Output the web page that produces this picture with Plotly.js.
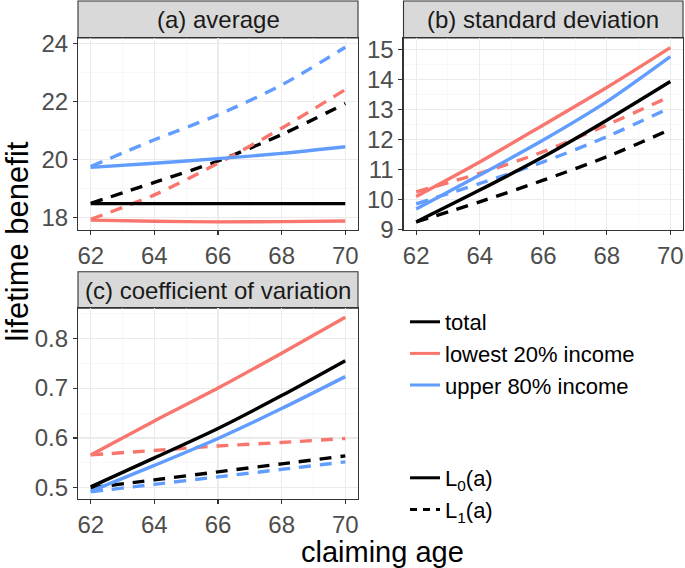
<!DOCTYPE html>
<html>
<head>
<meta charset="utf-8">
<script src="https://cdn.plot.ly/plotly-3.0.1.min.js"></script>
<style>html,body{margin:0;padding:0;background:#fff}#plot{width:685px;height:568px}</style>
</head>
<body>
<div id="plot"></div>
<script>
// ---- data ----
const ages = [62, 64, 66, 68, 70];
const xTicks = [62, 64, 66, 68, 70];

// (a) average
const avgTotalL0 = [18.47, 18.47, 18.47, 18.47, 18.47];
const avgTotalL1 = [18.48, 19.2, 19.94, 20.85, 21.92];
const avgLowL0 = [17.9, 17.86, 17.84, 17.85, 17.87];
const avgLowL1 = [17.93, 18.77, 19.86, 21.07, 22.4];
const avgUpL0 = [19.72, 19.86, 20.02, 20.2, 20.43];
const avgUpL1 = [19.75, 20.67, 21.53, 22.56, 23.86];

// (b) standard deviation
const sdTotalL0 = [9.25, 10.31, 11.42, 12.64, 13.93];
const sdTotalL1 = [9.25, 9.92, 10.64, 11.42, 12.33];
const sdLowL0 = [10.1, 11.25, 12.48, 13.73, 15.06];
const sdLowL1 = [10.25, 10.87, 11.59, 12.48, 13.43];
const sdUpL0 = [9.68, 10.81, 11.98, 13.26, 14.76];
const sdUpL1 = [9.85, 10.53, 11.25, 12.09, 13.06];

// (c) coefficient of variation
const cvTotalL0 = [0.502, 0.56, 0.619, 0.685, 0.755];
const cvTotalL1 = [0.5, 0.516, 0.532, 0.548, 0.564];
const cvLowL0 = [0.566, 0.634, 0.70, 0.77, 0.842];
const cvLowL1 = [0.566, 0.575, 0.584, 0.591, 0.599];
const cvUpL0 = [0.493, 0.545, 0.599, 0.659, 0.723];
const cvUpL1 = [0.492, 0.507, 0.522, 0.537, 0.552];

const groupNames = ['total', 'lowest 20% income', 'upper 80% income'];
const typeNames = ['L<sub>0</sub>(a)', 'L<sub>1</sub>(a)'];
const panelTitles = ['(a) average', '(b) standard deviation', '(c) coefficient of variation'];
const yTicksA = [18, 20, 22, 24];
const yTicksB = [9, 10, 11, 12, 13, 14, 15];
const yTicksC = [0.5, 0.6, 0.7, 0.8];

// ---- styling ----
const colors = ['#000000', '#F8766D', '#619CFF'];
const LW = 3.4;
const DASH = '12px,9px';
const W = 685, H = 568;
const font = 'Liberation Sans, Arial, sans-serif';

const panels = [
  {xa: 'x', ya: 'y', series: [[avgTotalL0, avgTotalL1], [avgLowL0, avgLowL1], [avgUpL0, avgUpL1]]},
  {xa: 'x2', ya: 'y2', series: [[sdTotalL0, sdTotalL1], [sdLowL0, sdLowL1], [sdUpL0, sdUpL1]]},
  {xa: 'x3', ya: 'y3', series: [[cvTotalL0, cvTotalL1], [cvLowL0, cvLowL1], [cvUpL0, cvUpL1]]}
];

const traces = [];
panels.forEach(p => {
  [1, 0].forEach(t => {
    [0, 1, 2].forEach(g => {
      traces.push({
        x: ages, y: p.series[g][t], xaxis: p.xa, yaxis: p.ya,
        type: 'scatter', mode: 'lines', showlegend: false, hoverinfo: 'skip',
        line: {color: colors[g], width: LW, dash: t === 0 ? 'solid' : DASH, shape: 'spline', smoothing: 0.8}
      });
    });
  });
});
// legend entries
groupNames.forEach((n, g) => {
  traces.push({x: [null], y: [null], xaxis: 'x', yaxis: 'y', type: 'scatter', mode: 'lines',
    name: n, legend: 'legend', line: {color: colors[g], width: 3}});
});
typeNames.forEach((n, t) => {
  traces.push({x: [null], y: [null], xaxis: 'x', yaxis: 'y', type: 'scatter', mode: 'lines',
    name: n, legend: 'legend2', line: {color: '#000', width: 3, dash: t === 0 ? 'solid' : '7px,6px'}});
});

const px = v => v / W;
const py = v => 1 - v / H;

function xax(d) {
  return {domain: d, range: [61.6, 70.4], tickvals: xTicks, ticktext: xTicks.map(String),
    showline: true, mirror: true, linecolor: '#333333', linewidth: 1.1,
    ticks: 'outside', ticklen: 4, tickcolor: '#333333', tickwidth: 1.1,
    showgrid: true, gridcolor: '#ebebeb', gridwidth: 1.1, zeroline: false,
    minor: {dtick: 1, tick0: 61, showgrid: true, gridcolor: '#f3f3f3', gridwidth: 0.6, ticks: ''},
    tickfont: {family: font, size: 24, color: '#4d4d4d'}, fixedrange: true};
}
function yax(d, r, tv, md) {
  return {domain: d, range: r, tickvals: tv, ticktext: tv.map(String),
    showline: true, mirror: true, linecolor: '#333333', linewidth: 1.1,
    ticks: 'outside', ticklen: 4, tickcolor: '#333333', tickwidth: 1.1,
    showgrid: true, gridcolor: '#ebebeb', gridwidth: 1.1, zeroline: false,
    minor: {dtick: md, tick0: tv[0] - md, showgrid: true, gridcolor: '#f3f3f3', gridwidth: 0.6, ticks: ''},
    tickfont: {family: font, size: 24, color: '#4d4d4d'}, fixedrange: true};
}

const aX = [px(78), px(358)], bX = [px(403.5), px(683)];
const topY = [py(230), py(38)], botY = [py(499.3), py(308.3)];

const strips = [
  {x0: 78, x1: 358, y0: 1, y1: 38},
  {x0: 403.5, x1: 683, y0: 1, y1: 38},
  {x0: 78, x1: 358, y0: 271.7, y1: 308.3}
];
const shapes = strips.map(s => ({type: 'rect', xref: 'paper', yref: 'paper',
  x0: px(s.x0), x1: px(s.x1), y0: py(s.y1), y1: py(s.y0),
  fillcolor: '#d9d9d9', line: {color: '#333333', width: 1.1}, layer: 'below'}));

const annotations = strips.map((s, i) => ({xref: 'paper', yref: 'paper',
  x: px((s.x0 + s.x1) / 2), y: py((s.y0 + s.y1) / 2), xanchor: 'center', yanchor: 'middle',
  text: panelTitles[i], showarrow: false, font: {family: font, size: 24, color: '#1a1a1a'}}));
annotations.push({xref: 'paper', yref: 'paper', x: px(16.5), y: py(242), text: 'lifetime benefit',
  textangle: -90, showarrow: false, xanchor: 'center', yanchor: 'middle',
  font: {family: font, size: 31, color: '#000'}});
annotations.push({xref: 'paper', yref: 'paper', x: px(382), y: py(569), text: 'claiming age',
  showarrow: false, xanchor: 'center', yanchor: 'bottom', borderpad: 0,
  font: {family: font, size: 29, color: '#000'}});

const layout = {
  width: W, height: H, margin: {l: 0, r: 0, t: 0, b: 0},
  paper_bgcolor: '#fff', plot_bgcolor: '#fff',
  xaxis: Object.assign(xax(aX), {anchor: 'y'}),
  yaxis: Object.assign(yax(topY, [17.56, 24.18], yTicksA, 1), {anchor: 'x'}),
  xaxis2: Object.assign(xax(bX), {anchor: 'y2'}),
  yaxis2: Object.assign(yax(topY, [8.98, 15.38], yTicksB, 0.5), {anchor: 'x2'}),
  xaxis3: Object.assign(xax(aX), {anchor: 'y3'}),
  yaxis3: Object.assign(yax(botY, [0.477, 0.86], yTicksC, 0.05), {anchor: 'x3'}),
  shapes: shapes, annotations: annotations,
  legend: {x: px(405), y: py(301), xanchor: 'left', yanchor: 'top', bgcolor: 'rgba(0,0,0,0)',
    font: {family: font, size: 22, color: '#000'}, itemwidth: 30, tracegroupgap: 0},
  legend2: {x: px(405), y: py(457), xanchor: 'left', yanchor: 'top', bgcolor: 'rgba(0,0,0,0)',
    font: {family: font, size: 22, color: '#000'}, itemwidth: 30, tracegroupgap: 0},
  showlegend: true
};

Plotly.newPlot('plot', traces, layout, {displayModeBar: false, staticPlot: true});
</script>
</body>
</html>
